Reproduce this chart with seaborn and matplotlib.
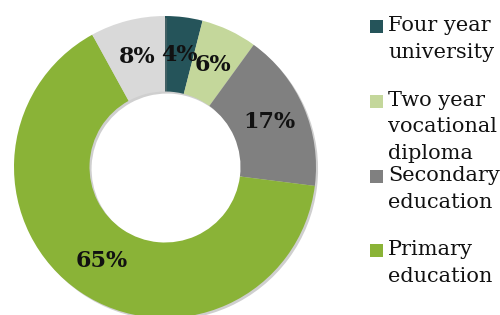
import matplotlib
matplotlib.use("Agg")
import matplotlib.pyplot as plt
import matplotlib.patheffects as pe
from matplotlib.patches import Patch, Rectangle
from matplotlib.legend_handler import HandlerPatch
import seaborn as sns

# ---- data ----
categories = ["Four year university", "Two year vocational diploma",
              "Secondary education", "Primary education", "Other"]
values = [4, 6, 17, 65, 8]
legend_labels = ["Four year\nuniversity", "Two year\nvocational\ndiploma",
                 "Secondary\neducation", "Primary\neducation"]
colors = sns.color_palette(["#25545A", "#C4D79B", "#808080", "#8AB337", "#D9D9D9"])

sns.set_theme(style="white")
plt.rcParams["font.family"] = ["DejaVu Serif"]

fig = plt.figure(figsize=(5.0, 3.15), dpi=100)
ax = fig.add_axes([14 / 500, (315 - 318) / 315, 302 / 500, 302 / 315])

shadow = [pe.SimplePatchShadow(offset=(1.5, -1.5), shadow_rgbFace="#777777", alpha=0.35), pe.Normal()]
wedges, texts, autotexts = ax.pie(
    values, colors=colors, startangle=90, counterclock=False, radius=1.0,
    autopct=lambda p: f"{p:.0f}%", pctdistance=0.75,
    wedgeprops=dict(width=0.5, edgecolor="none", linewidth=0),
    textprops=dict(fontsize=16, fontweight="bold", color="#111111"),
)
for w in wedges:
    w.set_path_effects(shadow)
ax.set_xlim(-1, 1)
ax.set_ylim(-1, 1)
ax.set_aspect("equal")
ax.axis("off")

LEG_FS = 15
SQ = 0.62 * LEG_FS


def square(legend, orig_handle, xdescent, ydescent, width, height, fontsize):
    return Rectangle((-xdescent, -ydescent), SQ, SQ)


# legend: one entry per box so each sits at its own fixed slot
tops = [16, 91, 166, 240]
for i, (lab, top) in enumerate(zip(legend_labels, tops)):
    leg = fig.legend(handles=[Patch(facecolor=colors[i], edgecolor="none")],
                     labels=[lab], loc="upper left",
                     bbox_to_anchor=(370 / 500, 1 - top / 315),
                     frameon=False, fontsize=LEG_FS, borderpad=0, borderaxespad=0,
                     handlelength=0.62, handleheight=0.85, handletextpad=0.25,
                     labelcolor="#111111",
                     handler_map={Patch: HandlerPatch(patch_func=square)})
    for col in leg._legend_handle_box.get_children():
        for row in col.get_children():
            row.align = "top"
    for t in leg.get_texts():
        t.set_linespacing(1.5)

fig.savefig("out.png", dpi=100)
